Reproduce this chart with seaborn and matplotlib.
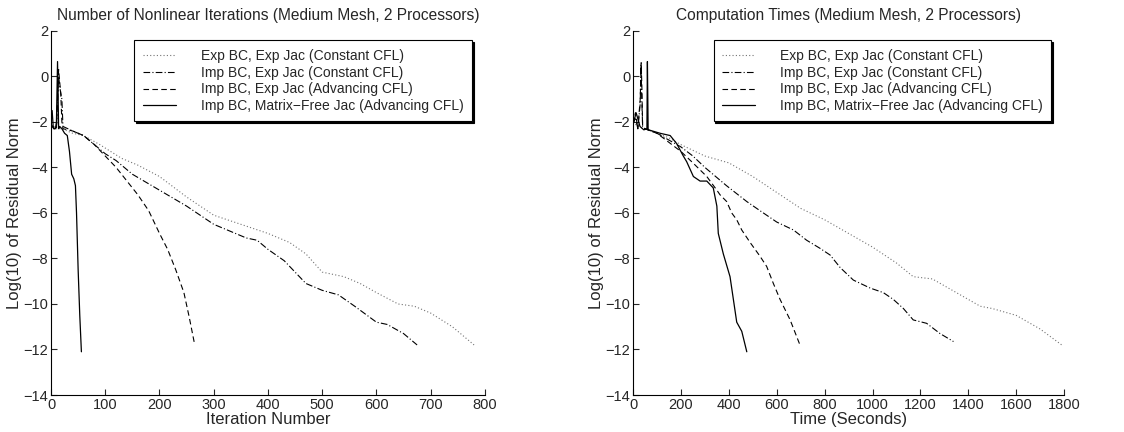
import matplotlib
matplotlib.use("Agg")
import matplotlib.pyplot as plt
import seaborn as sns
import pandas as pd

# --- data ---
labels = ["Exp BC, Exp Jac (Constant CFL)",
          "Imp BC, Exp Jac (Constant CFL)",
          "Imp BC, Exp Jac (Advancing CFL)",
          "Imp BC, Matrix\u2212Free Jac (Advancing CFL)"]

# left panel: residual vs nonlinear iteration
exp_const_iter = [0, 5, 10, 20, 40, 60, 90, 130, 160, 200, 250, 300, 350, 400, 440,
                  470, 500, 540, 570, 600, 640, 670, 700, 740, 780]
exp_const_res = [-2.1, -2.2, -2.3, -2.3, -2.5, -2.6, -3.0, -3.6, -3.9, -4.4, -5.3, -6.1,
                 -6.5, -6.9, -7.3, -7.8, -8.6, -8.8, -9.1, -9.5, -10.0, -10.1, -10.4, -11.0, -11.8]

imp_const_iter = [0, 5, 10, 14, 17, 20, 22, 40, 60, 100, 120, 150, 200, 250, 300, 330,
                  360, 380, 400, 430, 470, 500, 530, 560, 600, 620, 650, 675]
imp_const_res = [-2.1, -2.3, -2.3, 0.0, -0.6, -1.0, -2.2, -2.4, -2.6, -3.4, -3.7, -4.3,
                 -5.0, -5.7, -6.5, -6.8, -7.1, -7.2, -7.6, -8.1, -9.1, -9.4, -9.6, -10.1,
                 -10.8, -10.9, -11.3, -11.8]

imp_adv_iter = [0, 5, 10, 14, 18, 20, 22, 40, 60, 80, 100, 120, 140, 160, 180, 190,
                200, 215, 230, 245, 255, 265]
imp_adv_res = [-2.1, -2.3, -2.3, 0.3, -0.8, -2.0, -2.3, -2.4, -2.6, -3.0, -3.5, -4.0,
               -4.6, -5.2, -5.9, -6.4, -6.9, -7.6, -8.5, -9.5, -10.6, -11.8]

mf_adv_iter = [0, 2, 4, 6, 8, 10, 12, 14, 16, 20, 25, 30, 34, 38, 42, 45, 47, 50, 53, 56]
mf_adv_res = [-1.8, -1.5, -2.2, -2.3, -2.3, -2.0, 0.65, -2.3, -2.2, -2.3, -2.5, -2.6,
              -3.3, -4.3, -4.5, -4.8, -6.0, -8.5, -10.5, -12.1]

# right panel: residual vs wall time (s)
exp_const_time = [0, 10, 20, 50, 100, 150, 200, 300, 400, 500, 600, 700, 800, 900, 1000,
                  1100, 1170, 1250, 1300, 1400, 1450, 1500, 1600, 1700, 1790]
exp_const_res_t = [-2.0, -2.1, -2.2, -2.3, -2.5, -2.7, -3.0, -3.5, -3.8, -4.4, -5.1, -5.8,
                   -6.3, -6.9, -7.5, -8.2, -8.8, -8.9, -9.2, -9.8, -10.1, -10.2, -10.5,
                   -11.1, -11.8]

imp_const_time = [0, 10, 20, 30, 33, 36, 40, 50, 100, 150, 200, 250, 300, 390, 475, 530,
                  600, 670, 725, 780, 823, 865, 920, 990, 1045, 1087, 1129, 1170, 1226,
                  1282, 1338]
imp_const_res_t = [-2.1, -1.8, -2.3, -1.2, 0.5, -0.8, -2.2, -2.3, -2.5, -2.8, -3.1, -3.5,
                   -4.0, -4.8, -5.5, -5.9, -6.4, -6.75, -7.2, -7.55, -7.85, -8.4, -8.95,
                   -9.3, -9.5, -9.8, -10.2, -10.7, -10.85, -11.3, -11.65]

imp_adv_time = [0, 10, 20, 30, 34, 37, 40, 50, 100, 150, 200, 250, 308, 350, 363, 391,
                412, 433, 454, 489, 530, 558, 586, 614, 656, 697]
imp_adv_res_t = [-2.1, -1.6, -2.3, -1.0, 0.6, -0.5, -2.2, -2.3, -2.5, -2.9, -3.3, -3.8,
                 -4.4, -5.0, -5.2, -5.5, -6.0, -6.3, -6.75, -7.3, -7.9, -8.35, -9.1,
                 -9.8, -10.7, -11.8]

mf_adv_time = [0, 13, 29, 45, 58, 60, 63, 65, 113, 155, 182, 210, 224, 252, 280, 308,
               335, 350, 356, 377, 405, 419, 433, 454, 475]
mf_adv_res_t = [-2.1, -1.6, -2.2, -2.35, -2.3, 0.65, -2.3, -2.35, -2.5, -2.6, -2.95,
                -3.5, -3.75, -4.4, -4.6, -4.6, -4.9, -5.7, -6.9, -7.8, -8.8, -9.8,
                -10.8, -11.2, -12.1]

styles = [dict(linestyle=(0, (1, 2)), linewidth=0.8, color="0.45"),
          dict(linestyle=(0, (6, 2, 1, 2)), linewidth=0.8, color="black"),
          dict(linestyle=(0, (5, 3)), linewidth=0.8, color="black"),
          dict(linestyle="-", linewidth=0.9, color="black")]

sns.set_style("white")
plt.rcParams["font.family"] = ["Liberation Sans", "DejaVu Sans"]
plt.rcParams["font.size"] = 10

fig = plt.figure(figsize=(11.24, 4.32), dpi=100)
ax1 = fig.add_axes([0.0454, 0.0856, 0.386, 0.843])
ax2 = fig.add_axes([0.5632, 0.0856, 0.3835, 0.843])


def draw_panel(ax, series, xmax, xticks, xlabel, title):
    for (x, y), lab, st in zip(series, labels, styles):
        df = pd.DataFrame({"x": x, "y": y})
        sns.lineplot(data=df, x="x", y="y", sort=False, estimator=None,
                     ax=ax, label=lab, **st)
    ax.set_xlim(0, xmax)
    ax.set_ylim(-14, 2)
    ax.set_xticks(xticks)
    ax.set_yticks(range(-14, 3, 2))
    ax.set_yticklabels([f"{v}".replace("-", "\u2212") for v in range(-14, 3, 2)])
    ax.set_xlabel(xlabel, fontsize=12, labelpad=0)
    ax.set_ylabel("Log(10) of Residual Norm", fontsize=12, labelpad=1)
    ax.set_title(title, fontsize=11.2, pad=8)
    for s in ["top", "right"]:
        ax.spines[s].set_visible(False)
    for s in ["left", "bottom"]:
        ax.spines[s].set_color("black")
        ax.spines[s].set_linewidth(0.8)
    ax.tick_params(direction="in", length=4, width=0.8, labelsize=10.5, pad=2,
                   left=True, bottom=True)
    leg = ax.legend(loc="upper right", bbox_to_anchor=(0.98, 0.985),
                    frameon=True, fancybox=False, fontsize=10,
                    handlelength=2.4, handletextpad=1.8, labelspacing=0.2,
                    borderpad=0.6, borderaxespad=0.3,
                    shadow={"ox": 1.2, "oy": -1.2, "color": "black", "alpha": 1})
    leg.get_frame().set_edgecolor("black")
    leg.get_frame().set_linewidth(0.8)


draw_panel(ax1,
           [(exp_const_iter, exp_const_res), (imp_const_iter, imp_const_res),
            (imp_adv_iter, imp_adv_res), (mf_adv_iter, mf_adv_res)],
           800, range(0, 801, 100), "Iteration Number",
           "Number of Nonlinear Iterations (Medium Mesh, 2 Processors)")
draw_panel(ax2,
           [(exp_const_time, exp_const_res_t), (imp_const_time, imp_const_res_t),
            (imp_adv_time, imp_adv_res_t), (mf_adv_time, mf_adv_res_t)],
           1800, range(0, 1801, 200), "Time (Seconds)",
           "Computation Times (Medium Mesh, 2 Processors)")

fig.savefig("out.png", dpi=100)
